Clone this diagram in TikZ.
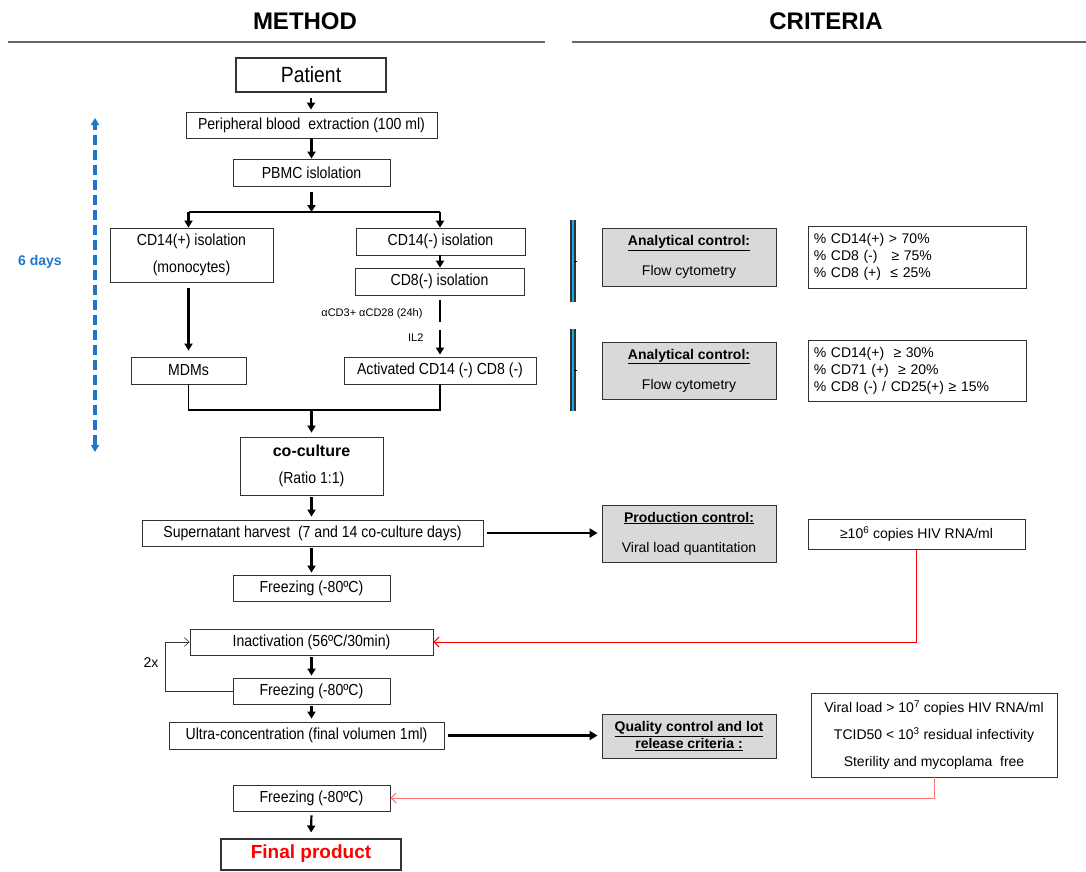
\documentclass[tikz,border=0pt]{standalone}
\usepackage{fontspec}
\setmainfont{Liberation Sans}
\newfontfamily\narrowsf{Liberation Sans}[FakeStretch=0.88]
\usetikzlibrary{arrows.meta, positioning}
\definecolor{dayblue}{RGB}{30,118,200}
\definecolor{barcyan}{RGB}{20,170,235}

\begin{document}
\begin{tikzpicture}[
  x=1pt, y=-1pt,
  stepbox/.style={draw=black!80, line width=0.8pt, align=center, inner sep=2pt, font=\narrowsf\fontsize{16}{19}\selectfont},
  endbox/.style={stepbox, line width=2pt, minimum width=150pt, minimum height=34pt},
  ctrlbox/.style={stepbox, fill=black!15, minimum width=174pt, font=\fontsize{14}{17}\selectfont},
  critbox/.style={stepbox, align=left, inner sep=5pt, minimum width=218pt, font=\fontsize{14}{17}\selectfont},
  title/.style={font=\bfseries\fontsize{24}{28}\selectfont},
  small/.style={font=\fontsize{11}{13}\selectfont},
  rule/.style={draw=black!60, line width=1.2pt},
  arr/.style={-{Triangle[length=7pt,width=8pt]}, line width=2.2pt, shorten <=2pt, shorten >=2pt},
  bigarr/.style={-{Triangle[length=8pt,width=9pt]}, line width=2.6pt, shorten <=4pt, shorten >=4pt},
  plain/.style={line width=2.2pt},
  looparr/.style={-{Straight Barb[length=5pt,width=9pt]}, line width=0.6pt, draw=black!80},
  redarr/.style={-{Straight Barb[length=5pt,width=10pt]}, line width=1pt, draw=red},
  pinkarr/.style={-{Straight Barb[length=5pt,width=10pt]}, line width=1pt, draw=red!55},
  dayarr/.style={{Triangle[length=7pt,width=8pt]}-{Triangle[length=7pt,width=8pt]}, line width=3.2pt, draw=dayblue, dash pattern=on 10pt off 5pt},
  bracket/.style={draw=black!80, line width=2.2pt, double=barcyan, double distance=1.6pt}
]
  \useasboundingbox (0,0) rectangle (1086,871);

  % headers
  \node[title] (method) at (305,21) {METHOD};
  \node[title] (criteria) at (826,21) {CRITERIA};
  \draw[rule] (8,42) -- (545,42);
  \draw[rule] (572,42) -- (1086,42);

  % method column
  \node[endbox, font=\narrowsf\fontsize{22}{26}\selectfont] (patient) at (311,75) {Patient};
  \node[stepbox, minimum width=251pt, minimum height=26pt] (blood) at (311.5,125) {Peripheral blood\ \ extraction (100 ml)};
  \node[stepbox, minimum width=157pt, minimum height=27pt] (pbmc) at (311.5,172.5) {PBMC islolation};
  \node[stepbox, minimum width=163pt, minimum height=54pt] (cdpos) at (191.5,255) {CD14(+) isolation\\[8pt](monocytes)};
  \node[stepbox, minimum width=169pt, minimum height=27pt] (cdneg) at (440.5,241.5) {CD14(-) isolation};
  \node[stepbox, minimum width=169pt, minimum height=27pt] (cdeight) at (439.5,281.5) {CD8(-) isolation};
  \node[stepbox, minimum width=115pt, minimum height=27pt] (mdm) at (188.5,370.5) {MDMs};
  \node[stepbox, minimum width=192pt, minimum height=27pt] (act) at (440,370.5) {Activated CD14 (-) CD8 (-)};
  \node[stepbox, minimum width=143pt, minimum height=58pt] (cocult) at (311.5,466) {{\normalfont\bfseries\fontsize{16}{19}\selectfont co-culture}\\[8pt](Ratio 1:1)};
  \node[stepbox, minimum width=341pt, minimum height=26pt] (harvest) at (312.5,533) {Supernatant harvest\ \ (7 and 14 co-culture days)};
  \node[stepbox, minimum width=157pt, minimum height=26pt] (freezeA) at (311.5,588) {Freezing (-80ºC)};
  \node[stepbox, minimum width=243pt, minimum height=26pt] (inact) at (311.5,642) {Inactivation (56ºC/30min)};
  \node[stepbox, minimum width=157pt, minimum height=26pt] (freezeB) at (311.5,691) {Freezing (-80ºC)};
  \node[stepbox, minimum width=275pt, minimum height=27pt] (ultra) at (306.5,735.5) {Ultra-concentration (final volumen 1ml)};
  \node[stepbox, minimum width=157pt, minimum height=26pt] (freezeC) at (311.5,798) {Freezing (-80ºC)};
  \node[endbox, minimum width=180pt, minimum height=31pt, text=red, font=\bfseries\fontsize{19}{23}\selectfont] (final) at (311,854) {Final product};

  % criteria column
  \node[ctrlbox, minimum height=58pt] (ctrlA) at (689,257) {\textbf{\underline{Analytical control:}}\\[13pt]Flow cytometry};
  \node[critbox, minimum height=62pt, right=32pt of ctrlA, text width=208pt] (critA) {\% CD14(+) > 70\%\\\% CD8 (-)\ \ \ ≥ 75\%\\\% CD8 (+)\ \ ≤ 25\%};
  \node[ctrlbox, minimum height=57pt] (ctrlB) at (689,370.5) {\textbf{\underline{Analytical control:}}\\[13pt]Flow cytometry};
  \node[critbox, minimum height=61pt, right=32pt of ctrlB, text width=208pt] (critB) {\% CD14(+)\ \ ≥ 30\%\\\% CD71 (+)\ \ ≥ 20\%\\\% CD8 (-) / CD25(+) ≥ 15\%};
  \node[ctrlbox, minimum height=57pt] (prod) at (689,533.5) {\textbf{\underline{Production control:}}\\[13pt]Viral load quantitation};
  \node[stepbox, minimum width=217pt, minimum height=30pt, font=\fontsize{14}{17}\selectfont] (hiv) at (916.5,534) {≥10\textsuperscript{6} copies HIV RNA/ml};
  \node[ctrlbox, minimum height=44pt] (qual) at (689,736) {\textbf{\underline{Quality control and lot}}\\\textbf{\underline{release criteria :}}};
  \node[stepbox, minimum width=246pt, minimum height=84pt, font=\fontsize{14}{17}\selectfont] (critC) at (934,735) {Viral load > 10\textsuperscript{7} copies HIV RNA/ml\\[10pt]TCID50 < 10\textsuperscript{3} residual infectivity\\[10pt]Sterility and mycoplama\ \ free};

  % brackets
  \draw[bracket] (573,220) -- (573,302);
  \draw[line width=0.6pt] (574,261) -- (577,261);
  \draw[bracket] (573,329) -- (573,411);
  \draw[line width=0.6pt] (574,370) -- (577,370);

  % 6 days
  \coordinate (daytop) at (95,118);
  \coordinate (daybot) at (95,452);
  \draw[dayarr] (daybot) -- (daytop);
  \node[text=dayblue, font=\bfseries\fontsize{14}{17}\selectfont] (days) at (40,262) {6 days};

  % main flow
  \draw[arr, shorten <=5pt] (patient.south) -- (patient.south |- blood.north);
  \draw[arr, shorten <=0pt, shorten >=0pt] (pbmc.south |- blood.south) -- (pbmc.north);
  \coordinate (split) at (311.5,212);
  \draw[arr, shorten <=6pt, shorten >=0pt] (pbmc.south) -- (split);
  \draw[plain] (split -| mdm) -- (split -| act);
  \draw[arr, shorten <=0pt, shorten >=0pt] (split -| mdm) -- (mdm.north |- cdpos.north);
  \draw[arr, shorten <=0pt, shorten >=0pt] (split -| act) -- (act.north |- cdneg.north);
  \draw[arr, shorten <=0pt, shorten >=0pt] (act.north |- cdneg.south) -- (act.north |- cdeight.north);
  \draw[arr, shorten <=6pt, shorten >=6pt] (mdm.north |- cdpos.south) -- (mdm.north);
  \coordinate (stimA) at (440,322);
  \coordinate (stimB) at (440,330);
  \draw[plain, shorten <=5pt] (act.north |- cdeight.south) -- (stimA);
  \draw[arr, shorten <=0pt] (stimB) -- (act.north);
  \node[small, anchor=east] (stimtext) at (426,314) {αCD3+ αCD28 (24h)};
  \node[small, anchor=east] (iltext) at (427,338) {IL2};
  \coordinate (merge) at (311.5,410);
  \draw[line width=1.6pt] (mdm.south) |- (merge) -| (act.south);
  \draw[arr, shorten <=0pt, shorten >=4pt] (merge) -- (cocult.north);
  \draw[arr, shorten >=3pt] (cocult.south) -- (cocult.south |- harvest.north);
  \draw[arr] (freezeA.north |- harvest.south) -- (freezeA.north);
  \draw[arr] (inact.south) -- (freezeB.north);
  \draw[arr, shorten >=3pt] (freezeB.south) -- (freezeB.south |- ultra.north);
  \draw[arr, shorten <=4pt, shorten >=5pt] (freezeC.south) -- (final.north);

  % loop and controls
  \draw[looparr] (freezeB.west) -- ++(-67,0) |- (inact.west);
  \node[font=\fontsize{14}{17}\selectfont] (twice) at (151,663) {2x};
  \draw[bigarr] (harvest.east) -- (harvest.east -| prod.west);
  \draw[bigarr] (ultra.east) -- (ultra.east -| qual.west);
  \draw[redarr] (hiv.south) |- (inact.east);
  \draw[pinkarr] (critC.south) |- (freezeC.east);
\end{tikzpicture}
\end{document}
